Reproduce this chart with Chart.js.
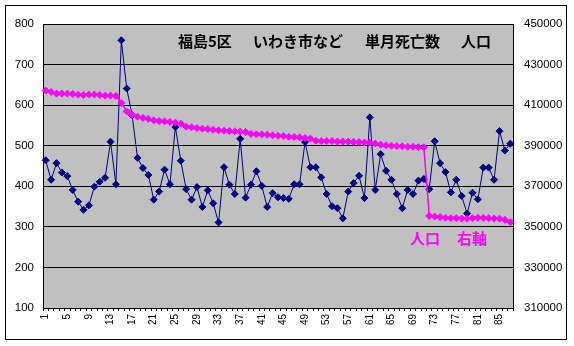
<!DOCTYPE html>
<html>
<head>
<meta charset="utf-8">
<script src="https://cdn.jsdelivr.net/npm/chart.js@4/dist/chart.umd.min.js"></script>
<style>
  body { margin: 0; background: #fff; }
  canvas { display: block; }
</style>
</head>
<body>
<canvas id="chart" width="574" height="346"></canvas>
<script>
// month number, 1 .. 87
const months = [
  '1','2','3','4','5','6','7','8','9','10','11','12','13','14','15','16','17','18','19','20',
  '21','22','23','24','25','26','27','28','29','30','31','32','33','34','35','36','37','38','39','40',
  '41','42','43','44','45','46','47','48','49','50','51','52','53','54','55','56','57','58','59','60',
  '61','62','63','64','65','66','67','68','69','70','71','72','73','74','75','76','77','78','79','80',
  '81','82','83','84','85','86','87'
];

// deaths per month (left axis)
const deaths = [
  464, 416, 457, 434, 425, 391, 362, 342, 353, 399, 411, 421, 510, 405, 760, 641, 575, 470, 445, 428,
  367, 387, 441, 405, 546, 463, 393, 367, 398, 349, 390, 358, 311, 447, 404, 381, 517, 372, 404, 437,
  401, 349, 383, 373, 371, 369, 405, 405, 509, 447, 447, 422, 381, 351, 346, 321, 387, 408, 426, 371,
  570, 391, 479, 438, 416, 381, 346, 391, 381, 414, 418, 393, 511, 457, 435, 385, 416, 376, 333, 384,
  368, 446, 446, 416, 536, 488, 505
];

// population (right axis)
const population = [
  417200, 416500, 415700, 415700, 415700, 415500, 415200, 415000, 415200, 415200,
  415000, 414700, 414700, 414500, 411100, 406900, 405300, 404300, 403700, 403200,
  402500, 402200, 402000, 401700, 401400, 400900, 399400, 399100, 398700, 398400,
  398200, 397900, 397600, 397400, 397200, 397100, 397000, 396800, 395800, 395600,
  395600, 395400, 395100, 394900, 394800, 394400, 394300, 394100, 393800, 393500,
  392500, 392300, 392300, 392300, 392100, 392100, 392000, 391900, 391800, 391600,
  391500, 391100, 390500, 390200, 390000, 389800, 389700, 389500, 389500, 389300,
  389200, 355400, 355100, 354800, 354500, 354300, 354300, 354100, 354000, 354300,
  354500, 354400, 354300, 354100, 354000, 353500, 352300
];

const tickFont = { family: 'Liberation Sans, Arial', size: 11.5 };
const jp = '"Noto Sans CJK JP", sans-serif';

const frame = {
  id: 'frame',
  beforeDraw(chart) {
    const { ctx, chartArea: a } = chart;
    ctx.save();
    ctx.fillStyle = '#fff';
    ctx.fillRect(0, 0, chart.width, chart.height);
    ctx.fillStyle = '#c0c0c0';
    ctx.fillRect(a.left, a.top, a.right - a.left, a.bottom - a.top);
    ctx.strokeStyle = '#000';
    ctx.lineWidth = 1;
    ctx.strokeRect(5.5, 5.5, 561, 334);
    ctx.restore();
  },
  beforeDatasetsDraw(chart) {
    const { ctx, chartArea: a } = chart;
    ctx.save();
    ctx.strokeStyle = '#000';
    ctx.lineWidth = 1;
    ctx.strokeRect(Math.round(a.left) + 0.5, Math.round(a.top) + 0.5,
      Math.round(a.right - a.left), Math.round(a.bottom - a.top));
    ctx.restore();
  },
  afterDraw(chart) {
    const ctx = chart.ctx;
    ctx.save();
    ctx.textBaseline = 'middle';
    ctx.textAlign = 'left';
    ctx.fillStyle = '#000';
    ctx.font = 'bold 15px ' + jp;
    ctx.fillText('福島5区', 178, 41);
    ctx.fillText('いわき市など', 253, 41);
    ctx.fillText('単月死亡数', 365, 41);
    ctx.fillText('人口', 461, 41);

    ctx.fillStyle = '#ff00ff';
    ctx.font = 'bold 15px ' + jp;
    ctx.fillText('人口', 410, 238);
    ctx.fillText('右軸', 457, 238);
    ctx.restore();
  }
};

new Chart(document.getElementById('chart'), {
  type: 'line',
  data: {
    labels: months,
    datasets: [{
      label: '単月死亡数',
      data: deaths,
      yAxisID: 'y',
      order: 1,
      borderColor: '#000080',
      borderWidth: 1,
      backgroundColor: '#000080',
      pointStyle: 'rectRot',
      pointRadius: 3.5,
      pointBorderWidth: 1,
      pointBackgroundColor: '#000080',
      pointBorderColor: '#000080',
      tension: 0,
      fill: false
    }, {
      label: '人口',
      data: population,
      yAxisID: 'y2',
      order: 0,
      borderColor: '#ff00ff',
      borderWidth: 1.5,
      backgroundColor: '#ff00ff',
      pointStyle: 'rectRot',
      pointRadius: 3.5,
      pointBorderWidth: 1,
      pointBackgroundColor: '#ff00ff',
      pointBorderColor: '#ff00ff',
      tension: 0,
      fill: false
    }]
  },
  options: {
    responsive: false,
    animation: false,
    layout: { padding: { top: 24, left: 0, right: 0, bottom: 0 } },
    plugins: {
      legend: { display: false },
      tooltip: { enabled: false },
      title: { display: false }
    },
    scales: {
      x: {
        offset: true,
        grid: { offset: true, drawOnChartArea: false, color: '#000', tickLength: 3 },
        border: { color: '#000' },
        ticks: {
          autoSkip: false,
          maxRotation: 90,
          minRotation: 90,
          padding: 3,
          color: '#000',
          font: { family: 'Liberation Sans, Arial', size: 10 },
          callback(v, i) { return i % 4 === 0 ? this.getLabelForValue(v) : ''; }
        },
        afterFit(s) { s.height = 38; }
      },
      y: {
        position: 'left',
        min: 100,
        max: 800,
        grid: { color: '#000', drawTicks: false },
        border: { color: '#000' },
        ticks: { stepSize: 100, padding: 9, color: '#000', font: tickFont },
        afterFit(s) { s.width = 43; }
      },
      y2: {
        position: 'right',
        min: 310000,
        max: 450000,
        grid: { drawOnChartArea: false, drawTicks: false },
        border: { color: '#000' },
        ticks: {
          stepSize: 20000,
          padding: 11,
          color: '#000',
          font: tickFont,
          callback(v) { return String(v); }
        },
        afterFit(s) { s.width = 61; }
      }
    }
  },
  plugins: [frame]
});
</script>
</body>
</html>
